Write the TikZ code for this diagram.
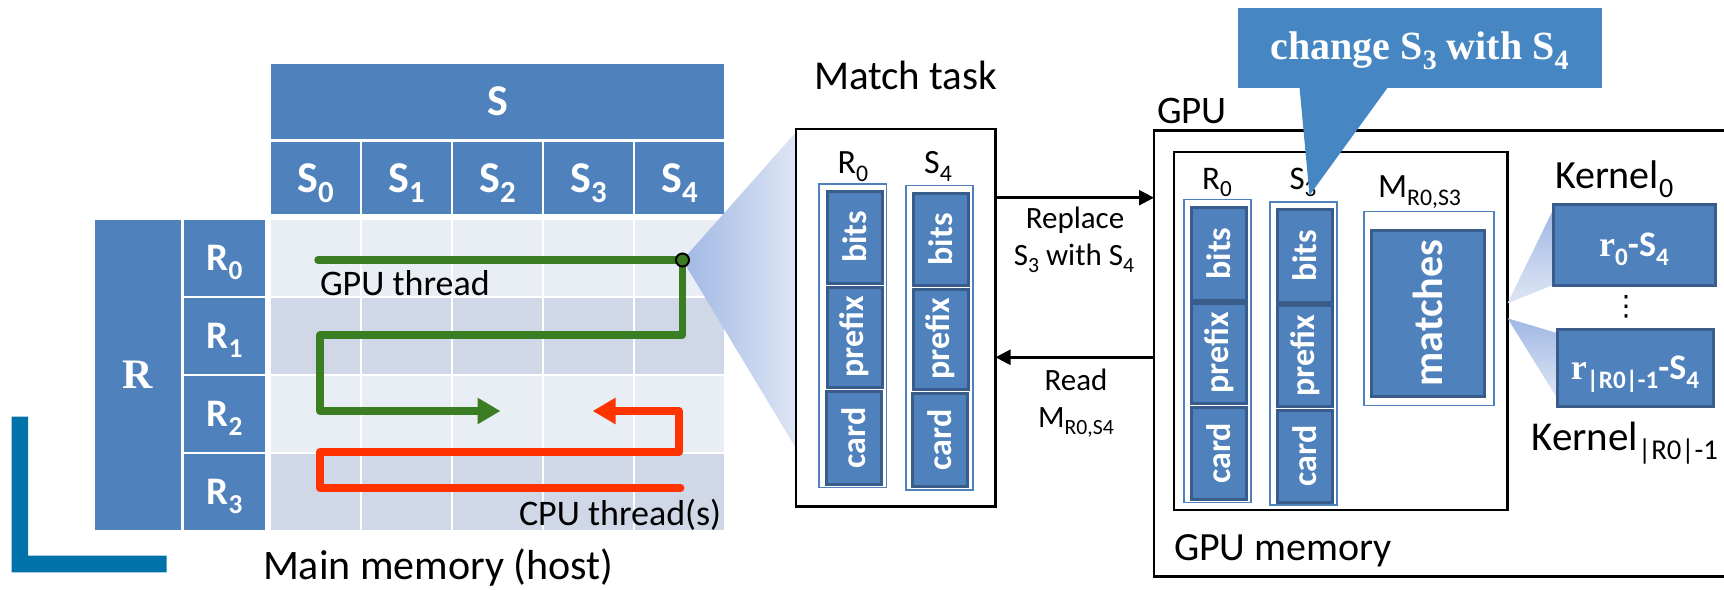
\documentclass[tikz,border=0pt]{standalone}
\usepackage{fontspec}
\setmainfont{Carlito}
\newfontfamily\gara{Liberation Serif}
\newfontfamily\dejavu{DejaVu Sans}
\usetikzlibrary{arrows.meta}
\definecolor{hdr}{RGB}{79,129,189}
\definecolor{hdrdk}{RGB}{56,93,138}
\definecolor{rowlt}{RGB}{233,237,244}
\definecolor{rowdk}{RGB}{208,216,232}
\definecolor{gth}{RGB}{59,125,35}
\definecolor{cth}{RGB}{255,51,0}
\definecolor{callc}{RGB}{70,135,195}
\definecolor{lblue}{RGB}{0,114,170}
\definecolor{fanDk}{RGB}{160,184,228}
\definecolor{fanLt}{RGB}{222,230,244}
\makeatletter
\newdimen\subdim
\newcommand\lsub[1]{{\subdim=\f@size pt\relax\subdim=0.7\subdim\raisebox{-0.24em}{\fontsize{\strip@pt\subdim}{\strip@pt\subdim}\selectfont #1}}}
\makeatother
\newcommand\fs[1]{\fontsize{#1}{#1}\selectfont}
\newcommand\rbox[7][]{%
 \pgfmathsetmacro\cx{(#3+#5)/2}%
 \pgfmathsetmacro\cy{(#4+#6)/2}%
 \pgfmathsetmacro\ww{abs(#5-#3)}%
 \pgfmathsetmacro\hh{abs(#6-#4)}%
 \node[inner sep=0pt, outer sep=0pt, minimum width=\ww pt, minimum height=\hh pt, #1] (#2) at (\cx,\cy) {#7};}
\newcommand\fbx[6]{%
 \pgfmathsetmacro\cx{(#2+#4)/2}%
 \pgfmathsetmacro\cy{(#3+#5)/2}%
 \pgfmathsetmacro\ww{abs(#4-#2)}%
 \pgfmathsetmacro\hh{abs(#5-#3)}%
 \node[field, rotate=90, minimum width=\hh pt, minimum height=\ww pt] (#1) at (\cx,\cy) {#6};}
\begin{document}
\begin{tikzpicture}[x=1pt,y=-1pt,
  hdrbox/.style={fill=hdr, text=white, font=\fs{44}\bfseries, text height=28pt, text depth=0pt},
  rlab/.style={fill=hdr, text=white, font=\fs{39}\bfseries, text height=25pt, text depth=0pt},
  bigR/.style={fill=hdr, text=white, font=\gara\fs{42}\bfseries, text height=28pt, text depth=0pt},
  blk/.style={draw=black, line width=2.5pt, fill=white},
  colbox/.style={draw=hdr, line width=1.5pt, fill=white},
  field/.style={fill=hdr, draw=hdrdk, line width=3pt, text=white, font=\fs{34}\bfseries, inner sep=0pt, outer sep=0pt},
  kbox/.style={fill=hdr, draw=hdrdk, line width=3pt, text=white, font=\fs{36}\bfseries, text height=24pt, text depth=0pt},
  callbox/.style={fill=callc, text=white, font=\gara\fs{40}\bfseries, text height=23pt, text depth=0pt},
  lbl/.style={inner sep=0pt, outer sep=0pt, text=black},
  arr/.style={draw=black, line width=2.5pt, -{Triangle[length=15pt,width=15pt]}},
  thr/.style={line width=7.5pt, line cap=round, line join=round, -{Triangle[length=23pt,width=25pt]}},
]
\useasboundingbox (0,0) rectangle (1724,589);
% L bracket
\fill[lblue] (11.7,416.7) -- (28,416.7) -- (28,555.7) -- (166.7,555.7) -- (166.7,572.3) -- (11.7,572.3) -- cycle;
% table headers
\rbox[hdrbox]{S}{271}{64}{724}{139}{S}
\foreach \i in {0,...,4}{
  \pgfmathsetmacro\xa{271+91*\i}\pgfmathsetmacro\xb{\xa+89}
  \rbox[hdrbox]{s\i}{\xa}{142}{\xb}{214}{S\lsub{\i}}
}
\rbox[bigR]{R}{94.5}{220}{181}{529.5}{R}
\foreach \j/\cc in {0/rowlt,1/rowdk,2/rowlt,3/rowdk}{
  \pgfmathsetmacro\ya{220+78*\j}\pgfmathsetmacro\yb{\ya+75.5}
  \rbox[rlab]{r\j}{184}{\ya}{265}{\yb}{R\lsub{\j}}
  \foreach \i in {0,...,4}{
    \pgfmathsetmacro\xa{271+91*\i}\pgfmathsetmacro\xb{\xa+89}
    \rbox[fill=\cc]{cell\i\j}{\xa}{\ya}{\xb}{\yb}{}
  }
}
\node[lbl, anchor=base west, font=\fs{36}] (gtl) at (320,295) {GPU thread};
\node[lbl, anchor=base west, font=\fs{36}] (ctl) at (519,525) {CPU thread(s)};
\node[lbl, anchor=base west, font=\fs{42}] (mml) at (263,579) {Main memory (host)};
% fan to match task
\coordinate (dotc) at (682.5,260);
\shade[left color=fanDk, right color=fanLt] (dotc) -- (797,131) -- (797,450) -- cycle;
% threads
\coordinate (g0) at (318,260);
\coordinate (g1) at (320,335);
\coordinate (g2) at (320,411);
\coordinate (g3) at (500.5,411);
\draw[thr, gth] (g0) -- (dotc) -- (682.5,335) -- (g1) -- (g2) -- (g3);
\coordinate (c0) at (680.6,488);
\coordinate (c1) at (320,452);
\coordinate (c2) at (679,411);
\coordinate (c3) at (592.6,411);
\draw[thr, cth] (c0) -- (320,488) -- (c1) -- (679,452) -- (c2) -- (c3);
\node[circle, draw=black, fill=gth, line width=2pt, minimum size=13pt, inner sep=0pt] (dot) at (dotc) {};
% match task
\node[lbl, anchor=base west, font=\fs{41}] (mtl) at (814,89) {Match task};
\rbox[blk]{mt}{796}{129}{995.5}{506.5}{}
\node[lbl, anchor=base, font=\fs{34}] (mrl) at (853,173) {R\lsub{0}};
\node[lbl, anchor=base, font=\fs{34}] (msl) at (938,173) {S\lsub{4}};
\rbox[colbox]{mrc}{819}{184}{886.7}{487.3}{}
\fbx{mrb}{827}{191}{882}{283}{bits}
\fbx{mrp}{827}{287}{882}{387}{prefix}
\fbx{mrd}{826.5}{391.5}{881.5}{484}{card}
\rbox[colbox]{msc}{906}{185.7}{973}{490}{}
\fbx{msb}{913}{193}{968}{285.7}{bits}
\fbx{msp}{913}{289}{968}{389}{prefix}
\fbx{msd}{912.5}{393}{967.5}{486.5}{card}
% GPU
\node[lbl, anchor=base west, font=\fs{39}] (gpul) at (1157,123) {GPU};
\rbox[blk]{gpu}{1154}{130.4}{1770}{576.7}{}
\rbox[blk]{gmem}{1174}{152}{1507.5}{509.8}{}
\node[lbl, anchor=base west, font=\fs{40}] (gmeml) at (1174,560) {GPU memory};
\node[lbl, anchor=base, font=\fs{33}] (grl) at (1217,189) {R\lsub{0}};
\node[lbl, anchor=base, font=\fs{33}] (gsl) at (1303,189) {S\lsub{3}};
\node[lbl, anchor=base west, font=\fs{34}] (gml) at (1378,197) {M\lsub{R0,S3}};
\rbox[colbox]{grc}{1184}{199.5}{1251}{502.6}{}
\fbx{grb}{1191.5}{207}{1246}{300}{bits}
\fbx{grp}{1191.5}{303}{1246}{403}{prefix}
\fbx{grd}{1191.5}{407}{1246}{499.5}{card}
\rbox[colbox]{gsc}{1270}{202}{1337}{505}{}
\fbx{gsb}{1277.3}{209}{1332.5}{302.3}{bits}
\fbx{gsp}{1277.3}{305.7}{1332.5}{406}{prefix}
\fbx{gsd}{1277.3}{410}{1332.5}{502}{card}
\rbox[colbox]{mo}{1364}{211.5}{1494}{405.5}{}
\fbx{mat}{1371}{230}{1484.5}{396.3}{\fs{42}matches}
% arrows
\draw[arr] (mt.east |- 0,197.7) -- (gpu.west |- 0,197.7);
\draw[arr] (gpu.west |- 0,357.3) -- (mt.east |- 0,357.3);
\node[lbl, anchor=base, font=\fs{31}] (rpl1) at (1075,228) {Replace};
\node[lbl, anchor=base, font=\fs{31}] (rpl2) at (1074,265) {S\lsub{3} with S\lsub{4}};
\node[lbl, anchor=base, font=\fs{31}] (rd1) at (1076,390) {Read};
\node[lbl, anchor=base, font=\fs{31}] (rd2) at (1076,427) {M\lsub{R0,S4}};
% kernels
\shade[top color=fanDk, bottom color=fanLt] (gmem.east |- 0,303.3) -- (1553,210) -- (1553,285) -- cycle;
\shade[top color=fanDk, bottom color=fanLt] (gmem.east |- 0,318.3) -- (1557,333) -- (1557,398) -- cycle;
\rbox[kbox]{k0}{1553}{204}{1715}{285}{{\gara r}\lsub{0}-S\lsub{4}}
\rbox[kbox]{k1}{1557}{329}{1713}{406}{{\gara r}\lsub{|R0|-1}-S\lsub{4}}
\node[lbl, anchor=base west, font=\fs{40}] (k0l) at (1555,188) {Kernel\lsub{0}};
\node[lbl, anchor=base west, font=\fs{41}] (k1l) at (1531.5,450) {Kernel\lsub{|R0|-1}};
\node[lbl, font=\dejavu\fs{28}] (dots) at (1626,307) {⋮};
% callout
\rbox[callbox]{call}{1237.6}{8.3}{1601.8}{87.5}{change S\lsub{3} with S\lsub{4}}
\fill[callc] (1299.4,86) -- (1388.8,86) -- (1309.5,195.3) -- cycle;
\end{tikzpicture}
\end{document}
